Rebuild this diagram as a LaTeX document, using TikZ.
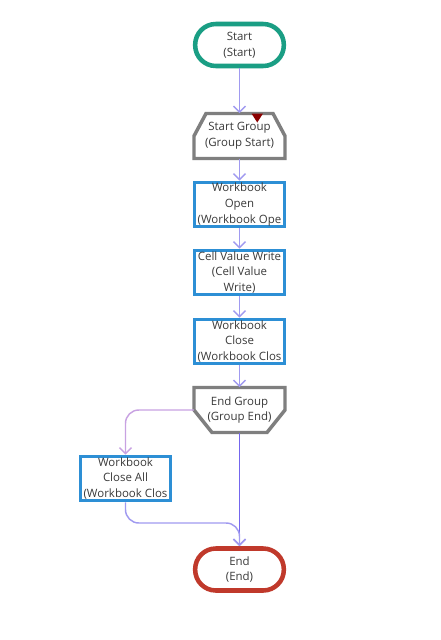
\documentclass[tikz,border=0pt]{standalone}
\usepackage{fontspec}
\setmainfont{Open Sans}
\usetikzlibrary{arrows.meta,calc}
\definecolor{teal1}{HTML}{1A9E84}
\definecolor{red1}{HTML}{C0392B}
\definecolor{gray1}{HTML}{7F7F7F}
\definecolor{blue1}{HTML}{2D8FD5}
\definecolor{link}{HTML}{A09AF0}
\definecolor{linkdark}{HTML}{7466EE}
\definecolor{linkpink}{HTML}{C8A2E2}
\definecolor{txt}{HTML}{3A3A3A}
\definecolor{markred}{HTML}{8B0000}
\tikzset{
  every node/.style={font=\fontsize{8.6}{11.7}\selectfont, text=txt, align=center, inner sep=0pt},
  terminal/.style={draw, line width=3.4pt, rounded corners=15.5pt, minimum width=66.5pt, minimum height=31.5pt, fill=white},
  actbox/.style={draw=blue1, line width=2.2pt, minimum width=68pt, minimum height=33.5pt, fill=white},
  grpbox/.style={minimum width=68pt, minimum height=33.75pt},
  grpline/.style={draw=gray1, line width=2.6pt, fill=white, line join=miter},
  conn/.style={draw=link, line width=1.1pt, -{Straight Barb[length=4.5pt,width=9pt,line width=1.1pt]}},
}
\begin{document}
\begin{tikzpicture}[x=0.75pt,y=-0.75pt]
\useasboundingbox (0,0) rectangle (440,640);
\fill[white] (0,0) rectangle (440,640);
% nodes
\node[terminal, draw=teal1] (start) at (239.5,45) {Start\\(Start)};
\node[grpbox] (sg) at (239.5,136) {};
\draw[grpline] (206,113.5) -- (273,113.5) -- (285,136) -- (285,158.5) -- (194,158.5) -- (194,136) -- cycle;
\fill[markred] (251.5,113.5) -- (263,113.5) -- (257.25,122.5) -- cycle;
\node at (239.5,136) {Start Group\\(Group Start)};
\node[actbox] (wo) at (239.5,204.5) {Workbook\\Open\\(Workbook Ope};
\node[actbox] (cv) at (239.5,272.5) {Cell Value Write\\(Cell Value\\Write)};
\node[actbox] (wc) at (239.5,341.5) {Workbook\\Close\\(Workbook Clos};
\node[grpbox] (eg) at (239.5,410) {};
\draw[grpline] (194,387.5) -- (285,387.5) -- (285,410) -- (267,432.5) -- (212,432.5) -- (194,410) -- cycle;
\node at (239.5,410) {End Group\\(Group End)};
\node[actbox] (wca) at (125.5,478.5) {Workbook\\Close All\\(Workbook Clos};
\node[terminal, draw=red1] (end) at (239.5,569.5) {End\\(End)};
\coordinate (m) at (239.5,523);
% connectors
\draw[conn] (start.south) -- (sg.north);
\draw[conn] (sg.south) -- (wo.north);
\draw[conn] (wo.south) -- (cv.north);
\draw[conn] (cv.south) -- (wc.north);
\draw[conn] (wc.south) -- (eg.north);
\draw[conn, draw=linkpink, rounded corners=10pt] (eg.west) -| (wca.north);
\draw[conn, draw=linkdark] (eg.south) -- (end.north);
\draw[conn, rounded corners=10pt] (wca.south) |- (m) -- (end.north);
\end{tikzpicture}
\end{document}
